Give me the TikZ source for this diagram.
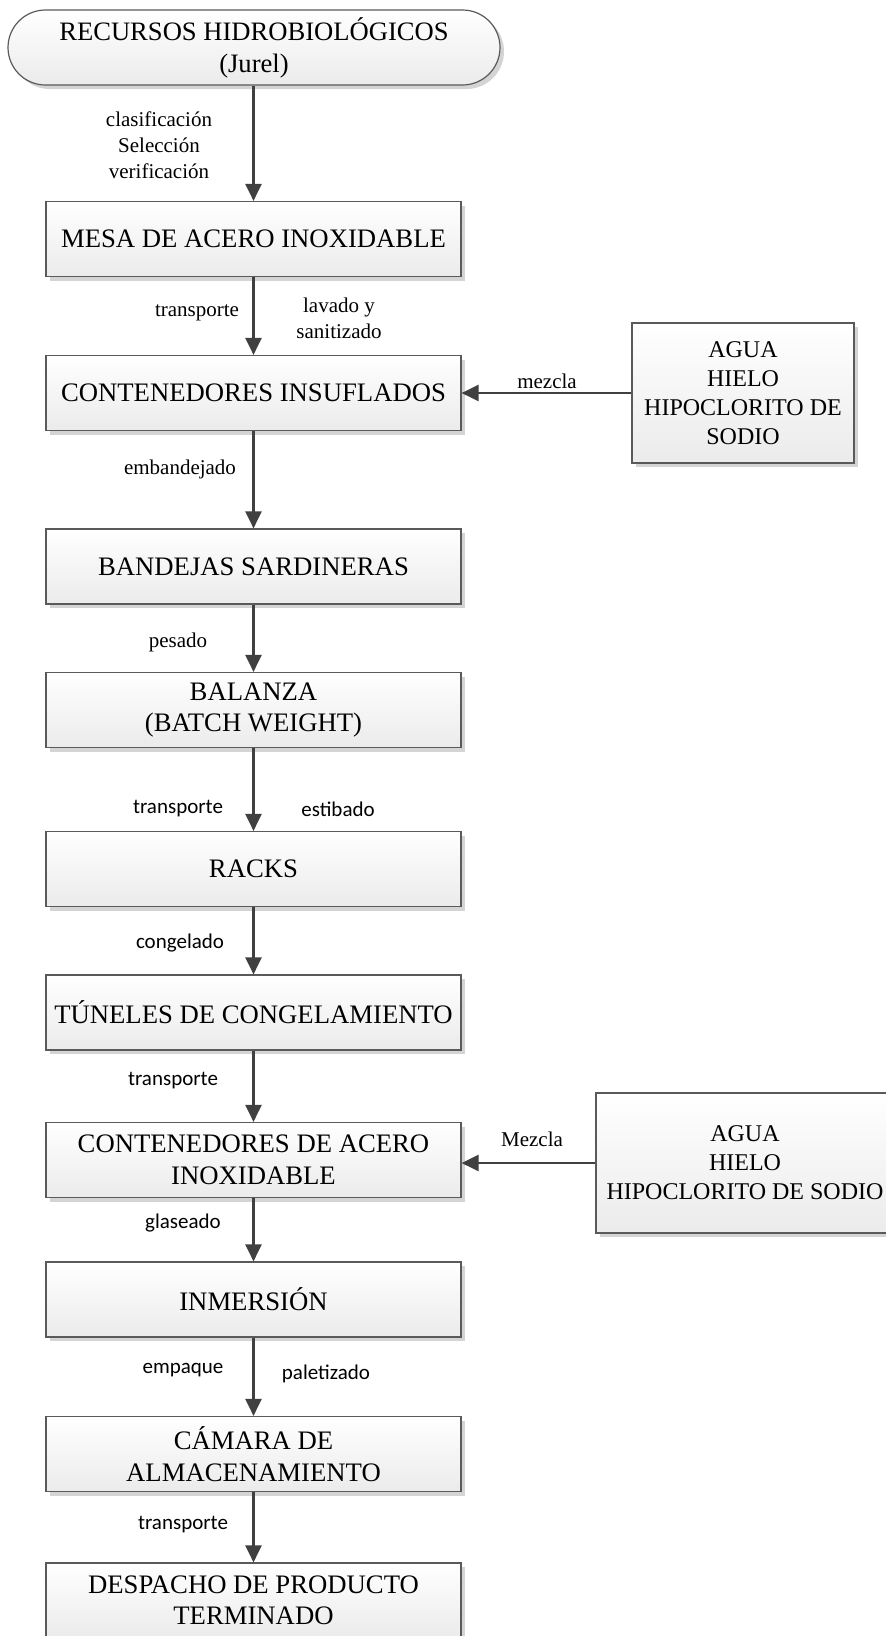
\documentclass[tikz,border=0pt]{standalone}
\usepackage{fontspec}
\setmainfont{Liberation Serif}
\newfontfamily\carlito{Carlito}
\usetikzlibrary{arrows.meta,shadows}

\definecolor{edge}{HTML}{5A5A5A}
\definecolor{flow}{HTML}{404040}
\definecolor{shadowgray}{HTML}{D4D4D4}
\definecolor{boxbottom}{HTML}{EBEBEB}

\tikzset{
  boxbase/.style={draw=edge, line width=1.2pt, top color=white, bottom color=boxbottom,
    inner sep=0pt, align=center,
    drop shadow={shadow xshift=4pt, shadow yshift=-4pt, fill=shadowgray, opacity=1}},
  stage/.style={boxbase, minimum width=415pt, minimum height=75pt,
    font=\fontsize{26.7}{31.5}\selectfont},
  source/.style={boxbase, rounded corners=37.5pt, minimum width=492pt, minimum height=75pt,
    font=\fontsize{26.6}{32}\selectfont},
  supply/.style={boxbase, minimum height=140pt,
    font=\fontsize{24}{29}\selectfont},
  flowarrow/.style={draw=flow, line width=2.4pt,
    -{Triangle[width=16pt,length=17pt]}},
  serlabel/.style={align=center, inner sep=0pt, font=\fontsize{21}{26}\selectfont},
  sanslabel/.style={align=center, inner sep=0pt, font=\carlito\fontsize{21}{26}\selectfont},
}

\begin{document}
\begin{tikzpicture}[x=1pt, y=-1pt]
\useasboundingbox (0,0) rectangle (886,1636);
\fill[white] (0,0) rectangle (886,1636);

% process chain
\node[source] (rec) at (254,47.5) {RECURSOS HIDROBIOLÓGICOS\\(Jurel)};
\node[stage] (mesa) at (253.5,239) {MESA DE ACERO INOXIDABLE};
\node[stage] (insuf) at (253.5,393) {CONTENEDORES INSUFLADOS};
\node[stage] (band) at (253.5,566.5) {BANDEJAS SARDINERAS};
\node[stage] (bal) at (253.5,710) {BALANZA\\(BATCH WEIGHT)};
\node[stage] (racks) at (253.5,869) {RACKS};
\node[stage] (tun) at (253.5,1012.5) {TÚNELES DE CONGELAMIENTO};
\node[stage] (acero) at (253.5,1160) {CONTENEDORES DE ACERO\\INOXIDABLE};
\node[stage] (inm) at (253.5,1299.5) {INMERSIÓN};
\node[stage] (cam) at (253.5,1454) {CÁMARA DE\\ALMACENAMIENTO};
\node[stage] (desp) at (253.5,1600.5) {DESPACHO DE PRODUCTO\\TERMINADO};

% supply boxes
\node[supply, minimum width=222pt] (agua1) at (743,393) {AGUA\\HIELO\\HIPOCLORITO DE\\SODIO};
\node[supply, minimum width=298pt] (agua2) at (745,1163) {AGUA\\HIELO\\HIPOCLORITO DE SODIO};

% connectors
\draw[flowarrow] (rec.south -| mesa.north) -- (mesa.north);
\draw[flowarrow] (mesa) -- (insuf);
\draw[flowarrow] (insuf) -- (band);
\draw[flowarrow] (band) -- (bal);
\draw[flowarrow] (bal) -- (racks);
\draw[flowarrow] (racks) -- (tun);
\draw[flowarrow] (tun) -- (acero);
\draw[flowarrow] (acero) -- (inm);
\draw[flowarrow] (inm) -- (cam);
\draw[flowarrow] (cam) -- (desp);
\draw[flowarrow] (agua1.west) -- (agua1.west -| insuf.east);
\draw[flowarrow] (agua2.west) -- (agua2.west -| acero.east);

% connector labels
\node[serlabel] (l1) at (159,145) {clasificación\\Selección\\verificación};
\node[serlabel] (l2) at (197,313) {transporte};
\node[serlabel] (l3) at (339,318.5) {lavado y\\sanitizado};
\node[serlabel] (l4) at (547,381) {mezcla};
\node[serlabel] (l5) at (180,469) {embandejado};
\node[serlabel] (l6) at (178,642) {pesado};
\node[sanslabel] (l7) at (178,809) {transporte};
\node[sanslabel] (l8) at (338,809) {estibado};
\node[sanslabel] (l9) at (180,943) {congelado};
\node[sanslabel] (l10) at (173,1081) {transporte};
\node[serlabel] (l11) at (532,1139) {Mezcla};
\node[sanslabel] (l12) at (183,1223) {glaseado};
\node[sanslabel] (l13) at (183,1370) {empaque};
\node[sanslabel] (l14) at (326,1374) {paletizado};
\node[sanslabel] (l15) at (183,1525) {transporte};
\end{tikzpicture}
\end{document}
